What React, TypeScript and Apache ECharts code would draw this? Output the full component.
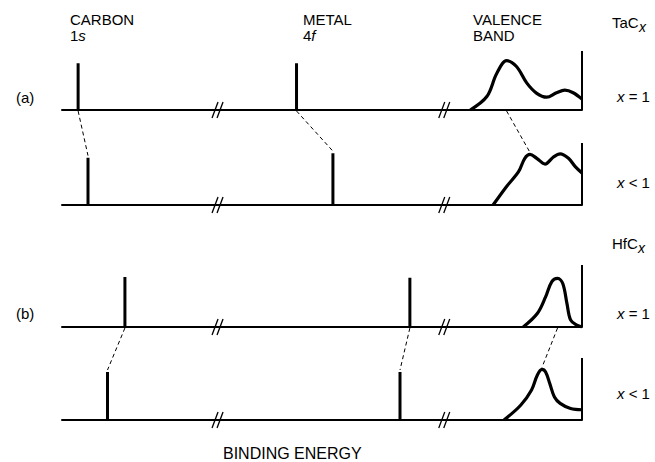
import React, { useEffect, useRef } from "react";
import * as echarts from "echarts";

// ---- data (arbitrary binding-energy units 0..100, intensity 0..1) ----
const rowKeys = ["TaC x=1", "TaC x<1", "HfC x=1", "HfC x<1"];
const carbonPos = [3.1, 5.0, 12.1, 8.75];
const carbonHeight = [0.73, 0.74, 0.78, 0.75];
const metalPos = [45.1, 52.1, 66.9, 65.0];
const metalHeight = [0.73, 0.81, 0.77, 0.75];
const edgeHeight = [0.92, 0.97, 0.97, 0.97];
const breakPos = [30.2, 73.8];

const valenceTaC1: number[][] = [
  [78.5, 0], [81.7, 0.21], [83.6, 0.57], [85.5, 0.77], [87.4, 0.68], [89.4, 0.42],
  [91.3, 0.26], [93.2, 0.2], [95.1, 0.27], [96.7, 0.31], [98.3, 0.27], [100, 0.17],
];
const valenceTaC2: number[][] = [
  [82.9, 0], [85.5, 0.29], [87.8, 0.52], [89.0, 0.73], [90.0, 0.79], [91.3, 0.73],
  [92.9, 0.64], [94.5, 0.75], [95.8, 0.8], [97.4, 0.73], [98.7, 0.6], [100, 0.5],
];
const valenceHfC1: number[][] = [
  [88.7, 0], [91.4, 0.21], [93.0, 0.47], [94.2, 0.71], [95.3, 0.76], [96.3, 0.68],
  [97.1, 0.37], [97.8, 0.11], [99.0, 0.03], [100, 0.0],
];
const valenceHfC2: number[][] = [
  [85.0, 0], [88.2, 0.23], [90.3, 0.47], [91.4, 0.7], [92.3, 0.79], [93.0, 0.75],
  [93.8, 0.57], [94.7, 0.36], [95.8, 0.26], [97.8, 0.18], [100, 0.16],
];
const valence = [valenceTaC1, valenceTaC2, valenceHfC1, valenceHfC2];
const valencePeakPos = [85.5, 90.0, 95.3, 92.3];
const valencePeakHeight = [0.77, 0.79, 0.76, 0.79];
const connectorPairs = [[0, 1], [2, 3]];

// ---- layout ----
const baselines = [110, 205, 327, 420];
const rowH = 64;
const FONT = "'Liberation Sans', Arial, Helvetica, sans-serif";
const INK = "#000";

export default function App() {
  const ref = useRef<HTMLDivElement>(null);
  useEffect(() => {
    if (!ref.current) return;
    const chart = echarts.init(ref.current, undefined, { renderer: "svg" });

    const grids = baselines.map((b) => ({ left: 62, width: 520, top: b - rowH, height: rowH }));
    const xAxes = baselines.map((_, i) => ({
      type: "value", gridIndex: i, min: 0, max: 100,
      axisLine: { show: true, onZero: false, lineStyle: { color: INK, width: 2 } },
      axisTick: { show: false }, axisLabel: { show: false }, splitLine: { show: false },
    }));
    const yAxes = baselines.map((_, i) => ({
      type: "value", gridIndex: i, min: 0, max: 1, show: false,
    }));

    const series: any[] = [];
    const lineBase = (i: number, w: number) => ({
      type: "line", xAxisIndex: i, yAxisIndex: i, symbol: "none", silent: true,
      lineStyle: { color: INK, width: w }, z: 3,
    });
    rowKeys.forEach((key, i) => {
      series.push({ ...lineBase(i, 3), name: key + " C1s", data: [[carbonPos[i], 0], [carbonPos[i], carbonHeight[i]]] });
      series.push({ ...lineBase(i, 3), name: key + " M4f", data: [[metalPos[i], 0], [metalPos[i], metalHeight[i]]] });
      series.push({ ...lineBase(i, 2), name: key + " edge", data: [[100, 0], [100, edgeHeight[i]]] });
      series.push({ ...lineBase(i, 3.2), name: key + " VB", smooth: 0.35, data: valence[i] });
      series.push({
        type: "custom", xAxisIndex: i, yAxisIndex: i, silent: true, z: 4,
        data: breakPos.map((b) => [b, 0]),
        renderItem: (_p: any, api: any) => {
          const c = api.coord([api.value(0), 0]);
          const st = { stroke: INK, lineWidth: 1.3 };
          return {
            type: "group",
            children: [
              { type: "line", shape: { x1: c[0] - 7, y1: c[1] + 8, x2: c[0] - 1, y2: c[1] - 8 }, style: st },
              { type: "line", shape: { x1: c[0] - 2, y1: c[1] + 8, x2: c[0] + 4, y2: c[1] - 8 }, style: st },
            ],
          };
        },
      });
    });

    chart.setOption({
      animation: false,
      backgroundColor: "#fff",
      grid: grids,
      xAxis: xAxes,
      yAxis: yAxes,
      series,
    });

    const rich = {
      i: { fontStyle: "italic", fontFamily: FONT, fontSize: 15, fill: INK, lineHeight: 16 },
      n: { fontFamily: FONT, fontSize: 15, fill: INK, lineHeight: 16 },
    };
    const txt = (x: number, y: number, text: string, extra: any = {}) => ({
      type: "text", x, y,
      style: {
        text, fill: INK, fontFamily: FONT, fontSize: 15,
        verticalAlign: "middle", rich, ...extra,
      },
    });
    const head = (x: number, text: string) =>
      txt(x, 11, text, { verticalAlign: "top", lineHeight: 16 });

    const els: any[] = [
      head(70, "{n|CARBON}\n{n|1}{i|s}"),
      head(303, "{n|METAL}\n{n|4}{i|f}"),
      head(473, "{n|VALENCE}\n{n|BAND}"),
      txt(612, 22, "TaC"), txt(639, 27, "x", { fontStyle: "italic", fontSize: 14 }),
      txt(612, 243, "HfC"), txt(638, 248, "x", { fontStyle: "italic", fontSize: 14 }),
      txt(16, 97, "(a)"), txt(16, 313, "(b)"),
      txt(617, 96, "{i|x} = 1"),
      txt(617, 182, "{i|x} < 1"),
      txt(617, 313, "{i|x} = 1"),
      txt(617, 393, "{i|x} < 1"),
      txt(223, 453, "BINDING ENERGY", { fontSize: 16 }),
    ];

    const dash = (a: number[], b: number[]) => ({
      type: "line",
      shape: { x1: a[0], y1: a[1] + 1, x2: b[0], y2: b[1] - 2 },
      style: { stroke: INK, lineWidth: 1, lineDash: [4, 3] },
    });
    connectorPairs.forEach(([a, b]) => {
      const feats: number[][][] = [
        [carbonPos, carbonHeight],
        [metalPos, metalHeight],
        [valencePeakPos, valencePeakHeight],
      ];
      feats.forEach(([pos, h]) => {
        const p1 = chart.convertToPixel({ gridIndex: a } as any, [pos[a], 0]) as number[];
        const p2 = chart.convertToPixel({ gridIndex: b } as any, [pos[b], h[b]]) as number[];
        els.push(dash(p1, p2));
      });
    });

    chart.setOption({ graphic: { elements: els } });
    return () => chart.dispose();
  }, []);

  return (
    <div
      ref={ref}
      style={{ position: "absolute", left: 0, top: 0, width: 655, height: 462, background: "#fff" }}
    />
  );
}
